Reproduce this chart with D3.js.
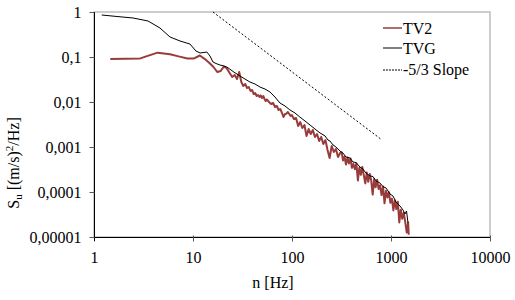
<!DOCTYPE html>
<html><head><meta charset="utf-8">
<script src="https://cdn.jsdelivr.net/npm/d3@7"></script>
<style>
html,body{margin:0;padding:0;background:#fff;}
</style></head>
<body><svg id="chart" width="515" height="300"></svg>
<script>
// ---- data ----
const xTickValues = [1, 10, 100, 1000, 10000];
const xTickLabels = ["1", "10", "100", "1000", "10000"];
const yTickValues = [0.00001, 0.0001, 0.001, 0.01, 0.1, 1];
const yTickLabels = ["0,00001", "0,0001", "0,001", "0,01", "0,1", "1"];

const tv2Freq = [1.46, 2.93, 4.39, 5.86, 7.32, 8.79, 10.25, 11.72, 13.18, 14.65, 16.11, 17.58, 19.04, 20.51, 21.97, 23.44, 24.9, 26.37, 27.83, 29.3,
  30.76, 32.23, 33.69, 35.16, 36.62, 38.09, 39.55, 41.02, 42.48, 43.95, 45.41, 46.88, 48.34, 49.81, 51.27, 52.74, 54.2, 55.67,
  58.6, 61.53, 64.46, 67.39, 70.32, 73.25, 76.18, 79.11, 82.04, 84.97, 87.9, 90.83, 93.76, 96.69, 99.62,
  104.6, 109.9, 115.4, 121.1, 127.2, 133.6, 140.2, 147.3, 154.6, 162.3, 170.5, 179, 188, 197.3, 207.2, 217.6, 228.5, 239.9, 251.9, 264.5, 277.7, 291.6, 306.2,
  317, 328, 339, 351, 364, 376, 390, 403, 417, 432, 447, 463, 479, 496, 513, 531, 550, 569, 589, 610, 631, 653, 676, 699, 724, 749, 775, 803, 831, 860,
  890, 921, 953, 986, 1021, 1057, 1094, 1132, 1172, 1213, 1255, 1299, 1345, 1392, 1441, 1491, 1510];
const tv2Psd = [0.0903, 0.093, 0.125, 0.115, 0.102, 0.093, 0.093, 0.108, 0.090, 0.0736, 0.060, 0.0464, 0.0489, 0.0615, 0.0555, 0.0441, 0.0359, 0.0398, 0.0324, 0.0464,
  0.0278, 0.0227, 0.0251, 0.0205, 0.0215, 0.0176, 0.0185, 0.015, 0.0158, 0.0136, 0.0143, 0.0129, 0.014, 0.0123, 0.0136, 0.0117, 0.0105, 0.0114,
  0.01, 0.00903, 0.0095, 0.00774, 0.00815, 0.00664, 0.00699, 0.0057, 0.00464, 0.00541, 0.0055, 0.0060, 0.00541, 0.00489, 0.00514,
  0.00419, 0.00441, 0.00293, 0.00359, 0.00264, 0.00308, 0.00176, 0.00251, 0.00194, 0.00239, 0.00167, 0.00194, 0.00136, 0.00167, 0.00117, 0.00143, 0.000858, 0.00057, 0.00105, 0.000774, 0.000903, 0.000599, 0.000736,
  7.59e-4, 5.02e-4, 6.15e-4, 4.08e-4, 5.85e-4, 4.30e-4, 5.55e-4, 3.45e-4, 4.21e-4, 3.22e-4, 4.34e-4, 1.80e-4, 3.47e-4, 2.40e-4, 3.59e-4, 2.37e-4, 1.55e-4, 2.70e-4, 1.68e-4, 2.51e-4,
  1.82e-4, 8.75e-5, 1.94e-4, 1.27e-4, 1.88e-4, 1.17e-4, 1.41e-4, 8.58e-5, 1.32e-4, 5.61e-5, 1.06e-4, 7.51e-5, 9.95e-5, 5.76e-5, 7.13e-5, 3.90e-5, 6.57e-5, 4.19e-5, 6.05e-5, 2.10e-5,
  4.04e-5, 2.54e-5, 3.45e-5, 2.17e-5, 1.26e-5, 2.10e-5, 1.12e-5];

const tvgFreq = [1.196, 1.707, 2.48, 3.51, 4.64, 5.86, 7.39, 9.33, 10.7, 11.8, 12.9, 13.8, 14.85, 15.9, 17.1, 18.7, 20.6, 22.0, 25.4, 29.8,
  33.5, 37.6, 42.3, 47.5, 53.4, 59.9, 67.3, 75.6, 85, 95.4, 107.2, 120, 135.3, 152, 170.7, 192, 215.4, 231, 242, 259.5,
  278, 305, 327, 351, 385, 413, 443, 486, 521, 559, 613, 658, 705, 774, 830, 890, 977, 1047, 1124, 1233, 1322, 1384, 1435, 1485];
const tvgPsd = [0.858, 0.794, 0.736, 0.631, 0.441, 0.278, 0.227, 0.194, 0.136, 0.123, 0.126, 0.129, 0.105, 0.0774, 0.0717, 0.0664, 0.0631, 0.0599, 0.0476, 0.0378,
  0.0324, 0.0278, 0.0251, 0.0215, 0.0194, 0.0167, 0.0129, 0.0095, 0.00815, 0.00664, 0.0057, 0.00464, 0.00378, 0.00308, 0.00251, 0.00205, 0.00176, 0.00143, 0.00136, 0.00111,
  0.001, 0.000815, 0.000736, 0.000599, 0.00057, 0.000464, 0.000452, 0.000359, 0.000324, 0.000264, 0.000227, 0.000221, 0.000176, 0.000158, 0.000132, 0.000123, 0.0000903, 0.0000815, 0.0000599, 0.0000489,
  0.0000398, 0.0000324, 0.0000378, 0.0000205];

const slopeFreq = [15.9, 805];
const slopePsd = [1, 0.00145];

const seriesNames = ["TV2", "TVG", "-5/3 Slope"];

// ---- chart ----
const FONT = "Liberation Serif";
const svg = d3.select("#chart");
const L = 94, R = 490, T = 12, B = 237;
const x = d3.scaleLog().domain([1, 10000]).range([L, R]);
const y = d3.scaleLog().domain([0.00001, 1]).range([B, T]);
const FS = "16px";

// plot area border (gray)
svg.append("rect").attr("x", L).attr("y", T).attr("width", R - L).attr("height", B - T)
  .attr("fill", "none").attr("stroke", "#bdbdbd").attr("stroke-width", 1.5);

const line = d3.line().x(d => x(d[0])).y(d => y(d[1]));
const red = "#9a3b3b";

svg.append("path").datum(tv2Freq.map((f, i) => [f, tv2Psd[i]]))
  .attr("d", line).attr("fill", "none").attr("stroke", red).attr("stroke-width", 2).attr("stroke-linejoin", "round");
svg.append("path").datum(tvgFreq.map((f, i) => [f, tvgPsd[i]]))
  .attr("d", line).attr("fill", "none").attr("stroke", "#000").attr("stroke-width", 1).attr("stroke-linejoin", "round");
svg.append("path").datum(slopeFreq.map((f, i) => [f, slopePsd[i]]))
  .attr("d", line).attr("fill", "none").attr("stroke", "#000").attr("stroke-width", 1).attr("stroke-dasharray", "2,2");

// axes
const xAxis = d3.axisBottom(x).tickValues(xTickValues).tickFormat((d, i) => xTickLabels[i]).tickSizeOuter(0);
const gx = svg.append("g").attr("transform", `translate(0,${B + 0.5})`).call(xAxis);
gx.attr("font-family", null).attr("font-size", null);
gx.select(".domain").attr("stroke", "#000").attr("d", `M${L - 4},0H${R}`);
gx.selectAll(".tick line").attr("y1", -2).attr("y2", 4).attr("stroke", "#555");
gx.selectAll(".tick text").attr("y", 25).attr("dy", 0).style("font-size", FS).style("font-family", FONT).attr("fill", "#000");

const yAxis = d3.axisLeft(y).tickValues(yTickValues).tickFormat((d, i) => yTickLabels[i]).tickSizeOuter(0);
const gy = svg.append("g").attr("transform", `translate(${L + 0.5},0)`).call(yAxis);
gy.attr("font-family", null).attr("font-size", null);
gy.select(".domain").attr("stroke", "#000").attr("d", `M0,${T}V${B + 4}`);
gy.selectAll(".tick line").attr("x2", -5).attr("stroke", "#555");
gy.selectAll(".tick text").attr("x", -13).attr("dy", "0.34em").style("font-size", FS).style("font-family", FONT).attr("fill", "#000");

// axis titles
svg.append("text").attr("x", 273).attr("y", 288).attr("text-anchor", "middle").style("font-size", FS).style("font-family", FONT).text("n [Hz]");
const yt = svg.append("text").attr("transform", "translate(19,163) rotate(-90)").attr("text-anchor", "middle").style("font-size", FS).style("font-family", FONT);
yt.append("tspan").text("S");
yt.append("tspan").style("font-size", "11px").attr("dy", 3).text("u");
yt.append("tspan").attr("dy", -3).text(" [(m/s)");
yt.append("tspan").style("font-size", "11px").attr("dy", -6).text("2");
yt.append("tspan").attr("dy", 6).text("/Hz]");

// legend
const legY = [28, 48, 70];
const legBase = [34, 54, 75];
const legStroke = [red, "#808080", "#000"];
const legW = [1.5, 2, 1];
const legDash = [null, null, "2,1"];
seriesNames.forEach((name, i) => {
  svg.append("line").attr("x1", 383).attr("x2", 402).attr("y1", legY[i]).attr("y2", legY[i])
    .attr("stroke", legStroke[i]).attr("stroke-width", legW[i]).attr("stroke-dasharray", legDash[i]);
  svg.append("text").attr("x", 403).attr("y", legBase[i]).style("font-size", FS).style("font-family", FONT).text(name);
});
</script></body></html>
